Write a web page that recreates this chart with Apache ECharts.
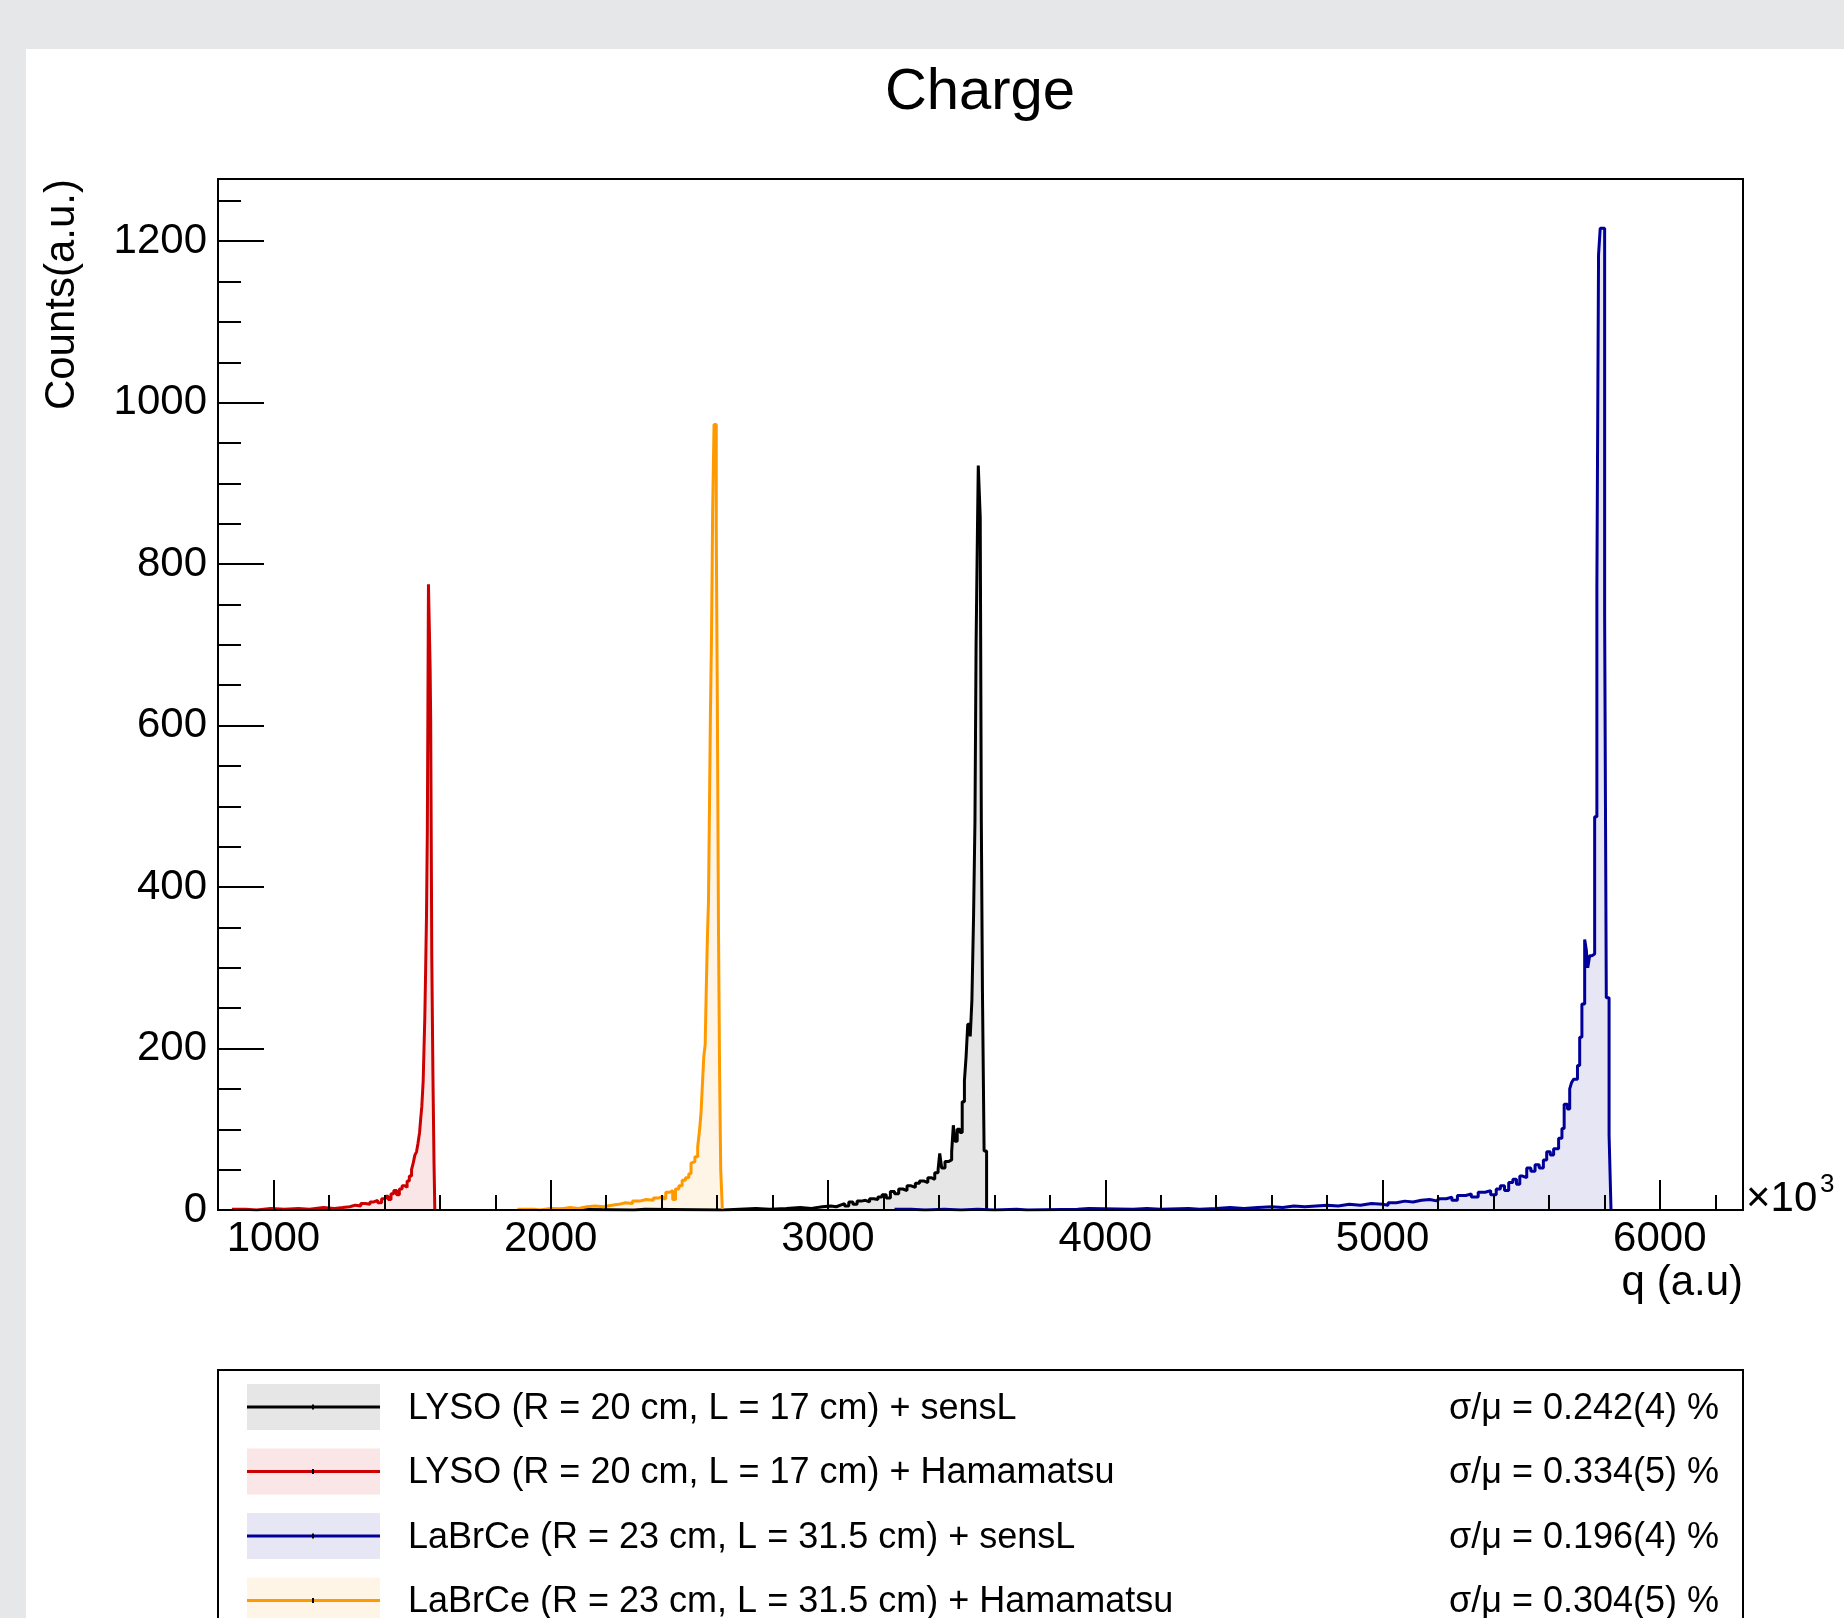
<!DOCTYPE html>
<html>
<head>
<meta charset="utf-8">
<title>Charge</title>
<script src="https://cdn.jsdelivr.net/npm/echarts@6/dist/echarts.min.js"></script>
<style>
  html, body { margin: 0; padding: 0; background: #e6e7e9; }
  #pad { position: absolute; left: 26px; top: 49px; width: 1818px; height: 1569px; background: #fff; }
  #main { position: absolute; left: 0; top: 0; width: 1844px; height: 1618px; }
</style>
</head>
<body>
<div id="pad"></div>
<div id="main"></div>
<script>
var FONT = '"Liberation Sans", Arial, Helvetica, sans-serif';

// histograms: [bin start q (x10^3 a.u.), counts], each bin runs to the next point
var lysoSensL = [[2000,1],[2040,0],[2300,1],[2340,0],[2620,1],[2680,2],[2740,1],[2790,2],[2850,3],[2900,2],[2940,4],[2980,5],[3010,4],[3030,6],[3045,8],[3060,5],[3075,10],[3090,7],[3105,11],[3120,12],[3135,10],[3150,14],[3165,13],[3180,16],[3195,19],[3210,15],[3225,23],[3240,20],[3255,26],[3270,24],[3285,30],[3300,28],[3315,33],[3330,36],[3345,34],[3360,40],[3372,38],[3385,46],[3397,50],[3403,70],[3410,52],[3422,60],[3434,62],[3446,72],[3452,105],[3458,85],[3466,100],[3476,96],[3484,134],[3492,160],[3498,190],[3504,230],[3513,215],[3519,260],[3525,364],[3530,481],[3534,699],[3539,842],[3542,922],[3549,858],[3553,481],[3557,272],[3563,73],[3572,0]];
var lysoHamamatsu = [[850,1],[900,0],[940,2],[990,1],[1040,2],[1090,1],[1130,3],[1180,2],[1220,3],[1250,4],[1275,6],[1295,5],[1315,8],[1332,7],[1348,10],[1362,12],[1376,9],[1390,14],[1404,17],[1414,13],[1424,20],[1434,24],[1444,19],[1454,26],[1464,30],[1474,28],[1482,36],[1490,42],[1498,50],[1504,58],[1510,68],[1516,72],[1521,82],[1527,96],[1531,113],[1535,128],[1540,160],[1543,200],[1546,240],[1549,300],[1552,365],[1555,470],[1557,620],[1559,775],[1565,672],[1567,609],[1569,463],[1571,315],[1575,172],[1579,60],[1582,0]];
var labrceSensL = [[3240,1],[3300,0],[3350,1],[3420,0],[3480,1],[3540,0],[3600,1],[3680,0],[3720,1],[3900,2],[3940,1],[4100,2],[4150,1],[4200,2],[4300,1],[4340,2],[4400,3],[4450,2],[4500,3],[4550,4],[4600,3],[4640,5],[4680,4],[4720,5],[4760,6],[4800,5],[4840,7],[4880,6],[4920,8],[4960,7],[5000,6],[5020,9],[5050,11],[5080,10],[5110,12],[5140,13],[5170,11],[5200,14],[5230,16],[5250,12],[5270,18],[5300,20],[5320,16],[5345,22],[5370,24],[5390,19],[5410,26],[5425,30],[5440,24],[5455,34],[5470,38],[5483,32],[5495,42],[5505,40],[5520,52],[5535,48],[5550,56],[5565,52],[5580,62],[5592,72],[5605,68],[5617,76],[5635,89],[5647,101],[5655,131],[5667,125],[5675,150],[5682,158],[5689,162],[5703,179],[5711,214],[5719,255],[5729,335],[5735,322],[5740,300],[5747,315],[5755,317],[5765,487],[5773,773],[5779,1183],[5785,1216],[5801,736],[5807,263],[5817,93],[5824,0]];
var labrceHamamatsu = [[1880,1],[1940,0],[1960,2],[2000,1],[2030,3],[2070,2],[2100,4],[2130,5],[2160,4],[2190,6],[2220,7],[2245,9],[2270,8],[2295,11],[2320,13],[2345,12],[2370,15],[2390,17],[2405,14],[2415,22],[2430,24],[2440,13],[2450,26],[2462,30],[2474,37],[2486,40],[2498,45],[2506,58],[2513,60],[2520,66],[2530,78],[2537,100],[2542,120],[2547,155],[2552,190],[2557,205],[2561,274],[2565,337],[2569,383],[2572,482],[2576,616],[2580,715],[2584,865],[2589,973],[2597,844],[2601,622],[2605,349],[2609,171],[2613,51],[2619,0]];

var seriesNames = [
  'LYSO (R = 20 cm, L = 17 cm) + sensL',
  'LYSO (R = 20 cm, L = 17 cm) + Hamamatsu',
  'LaBrCe (R = 23 cm, L = 31.5 cm) + sensL',
  'LaBrCe (R = 23 cm, L = 31.5 cm) + Hamamatsu'
];
var resolutions = ['σ/μ = 0.242(4) %', 'σ/μ = 0.334(5) %', 'σ/μ = 0.196(4) %', 'σ/μ = 0.304(5) %'];
var histData = [lysoSensL, lysoHamamatsu, labrceSensL, labrceHamamatsu];

var lineColors = ['#000000', '#cc0000', '#000099', '#ff9900'];
var fillColors = ['#e6e6e6', '#fae6e6', '#e6e6f5', '#fff5e6'];

var myChart = echarts.init(document.getElementById('main'), null, { renderer: 'canvas' });

// legend box, drawn by hand (ROOT style with the resolution column)
var graphics = [{
  type: 'rect', shape: { x: 218, y: 1370, width: 1525, height: 300 },
  style: { fill: '#fff', stroke: '#000', lineWidth: 2 }
}];
seriesNames.forEach(function (name, i) {
  var cy = 1407 + i * 64.5;
  graphics.push({ type: 'rect', shape: { x: 247, y: cy - 23, width: 133, height: 46 }, style: { fill: fillColors[i] } });
  graphics.push({ type: 'line', shape: { x1: 247, y1: cy, x2: 380, y2: cy }, style: { stroke: lineColors[i], lineWidth: 3 } });
  graphics.push({ type: 'rect', shape: { x: 312, y: cy - 2.5, width: 2, height: 5 }, style: { fill: '#000' } });
  graphics.push({ type: 'text', x: 408, y: cy + 2, style: { text: name, font: '36px ' + FONT, fill: '#000',
    align: 'left', verticalAlign: 'middle', textAlign: 'left', textVerticalAlign: 'middle' } });
  graphics.push({ type: 'text', x: 1719, y: cy + 2, style: { text: resolutions[i], font: '36px ' + FONT, fill: '#000',
    align: 'right', verticalAlign: 'middle', textAlign: 'right', textVerticalAlign: 'middle' } });
});
// x axis exponent
graphics.push({ type: 'text', x: 1746, y: 1199, style: { text: '×10', font: '42px ' + FONT, fill: '#000',
  align: 'left', verticalAlign: 'middle', textAlign: 'left', textVerticalAlign: 'middle' } });
graphics.push({ type: 'text', x: 1820, y: 1185, style: { text: '3', font: '26px ' + FONT, fill: '#000',
  align: 'left', verticalAlign: 'middle', textAlign: 'left', textVerticalAlign: 'middle' } });

option = {
  backgroundColor: 'transparent',
  animation: false,
  title: {
    text: 'Charge',
    left: 980,
    top: 64,
    textAlign: 'center',
    padding: 0,
    textStyle: { fontFamily: FONT, fontSize: 58, fontWeight: 'normal', color: '#000' }
  },
  grid: {
    left: 218, right: 101, top: 179, bottom: 408,
    containLabel: false,
    outerBoundsMode: 'none',
    show: true, borderColor: '#000', borderWidth: 2, backgroundColor: 'transparent'
  },
  xAxis: {
    type: 'value',
    min: 800, max: 6300,
    splitNumber: 5,
    z: 5,
    name: 'q (a.u)',
    nameLocation: 'end',
    nameGap: 0,
    nameMoveOverlap: false,
    nameTextStyle: { fontFamily: FONT, fontSize: 42, color: '#000', align: 'right', verticalAlign: 'top', padding: [52, 0, 0, 0] },
    axisLine: { show: true, lineStyle: { color: '#000', width: 2 } },
    axisTick: { show: true, inside: true, length: 30, lineStyle: { color: '#000', width: 2 } },
    minorTick: { show: true, splitNumber: 5, length: 15, lineStyle: { color: '#000', width: 2 } },
    axisLabel: {
      margin: 8, fontFamily: FONT, fontSize: 42, color: '#000',
      formatter: function (v) { return v % 1000 === 0 ? String(v) : ''; }
    },
    splitLine: { show: false }
  },
  yAxis: {
    type: 'value',
    min: 0, max: 1277, interval: 200,
    name: 'Counts(a.u.)',
    nameLocation: 'end',
    nameRotate: 90,
    nameGap: 0,
    nameTextStyle: { fontFamily: FONT, fontSize: 42, color: '#000', align: 'right', verticalAlign: 'bottom', padding: [0, 0, 135, 0] },
    axisLine: { show: true, lineStyle: { color: '#000', width: 2 } },
    axisTick: { show: true, inside: true, length: 46, lineStyle: { color: '#000', width: 2 } },
    minorTick: { show: true, splitNumber: 4, length: 23, lineStyle: { color: '#000', width: 2 } },
    axisLabel: {
      margin: 11, fontFamily: FONT, fontSize: 42, color: '#000',
      formatter: function (v) { return v % 200 === 0 ? String(v) : ''; }
    },
    splitLine: { show: false }
  },
  graphic: graphics,
  series: histData.map(function (d, i) {
    return {
      name: seriesNames[i],
      type: 'line',
      step: 'end',
      data: d,
      symbol: 'none',
      showSymbol: false,
      silent: true,
      lineStyle: { color: lineColors[i], width: 3 },
      itemStyle: { color: lineColors[i] },
      areaStyle: { color: fillColors[i], opacity: 1 }
    };
  })
};

myChart.setOption(option);
</script>
</body>
</html>
